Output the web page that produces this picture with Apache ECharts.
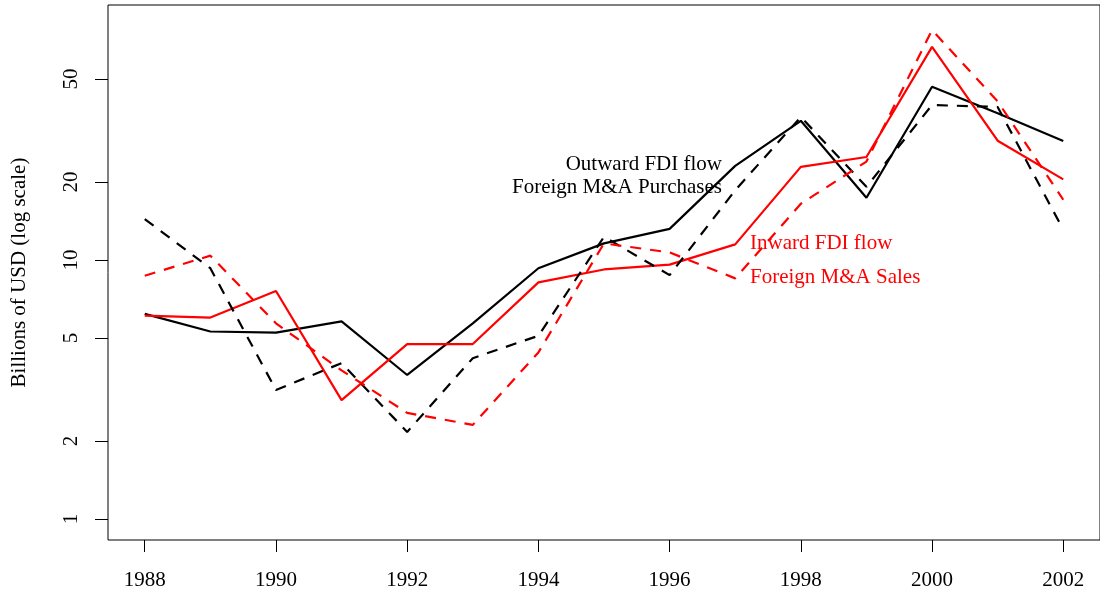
<!DOCTYPE html>
<html>
<head>
<meta charset="utf-8">
<script src="https://cdn.jsdelivr.net/npm/echarts@6/dist/echarts.min.js"></script>
<style>
  html, body { margin: 0; padding: 0; background: #fff; }
  #chart { width: 1100px; height: 595px; }
</style>
</head>
<body>
<div id="chart"></div>
<script>
// years on the x axis
const years = [1988, 1989, 1990, 1991, 1992, 1993, 1994, 1995, 1996, 1997, 1998, 1999, 2000, 2001, 2002]
const xTicks = [1988, 1990, 1992, 1994, 1996, 1998, 2000, 2002]
const yTicks = [1, 2, 5, 10, 20, 50]

// billions of USD
const outwardFdi = [6.2, 5.3, 5.25, 5.8, 3.6, 5.7, 9.3, 11.6, 13.2, 23.1, 34.5, 17.4, 46.7, 36.9, 28.8]
const inwardFdi = [6.1, 6.0, 7.6, 2.88, 4.74, 4.74, 8.2, 9.2, 9.6, 11.5, 22.9, 25.0, 66.6, 28.9, 20.5]
const maPurchases = [14.4, 9.3, 3.15, 4.0, 2.17, 4.18, 5.1, 12.3, 8.75, 18.6, 35.7, 19.2, 39.7, 39.0, 13.1]
const maSales = [8.7, 10.4, 5.7, 3.75, 2.57, 2.31, 4.4, 11.6, 10.7, 8.5, 16.5, 24.0, 77.3, 41.0, 17.1]

const font = 'Liberation Serif'

const pairs = (vals) => years.map((y, i) => [y, vals[i]])

const mkLine = (name, vals, color, dashed) => ({
  name: name,
  type: 'line',
  data: pairs(vals),
  symbol: 'none',
  silent: true,
  animation: false,
  lineStyle: {
    color: color,
    width: 2.2,
    type: dashed ? [11, 9] : 'solid'
  }
})

const chart = echarts.init(document.getElementById('chart'))

const option = {
  backgroundColor: '#fff',
  animation: false,
  grid: {
    show: true,
    left: 108,
    top: 5,
    width: 994,
    bottom: 55,
    borderColor: '#000',
    borderWidth: 1
  },
  xAxis: {
    type: 'value',
    min: 1987.44,
    max: 2002.56,
    axisLine: { show: false },
    splitLine: { show: false },
    axisTick: {
      customValues: xTicks,
      length: 12,
      lineStyle: { color: '#000', width: 1 }
    },
    axisLabel: {
      customValues: xTicks,
      margin: 30,
      color: '#000',
      fontFamily: font,
      fontSize: 21,
      formatter: (v) => String(v)
    }
  },
  yAxis: {
    type: 'log',
    logBase: 10,
    min: 0.83,
    max: 96.6,
    name: 'Billions of USD (log scale)',
    nameLocation: 'middle',
    nameGap: 78,
    nameTextStyle: { color: '#000', fontFamily: font, fontSize: 21 },
    axisLine: { show: false },
    splitLine: { show: false },
    minorTick: { show: false },
    axisTick: {
      customValues: yTicks,
      length: 13,
      lineStyle: { color: '#000', width: 1 }
    },
    axisLabel: {
      customValues: yTicks,
      rotate: 90,
      margin: 26,
      color: '#000',
      fontFamily: font,
      fontSize: 21,
      formatter: (v) => String(v)
    }
  },
  series: [
    mkLine('Outward FDI flow', outwardFdi, '#000', false),
    mkLine('Inward FDI flow', inwardFdi, '#ff0000', false),
    mkLine('Foreign M&A Purchases', maPurchases, '#000', true),
    mkLine('Foreign M&A Sales', maSales, '#ff0000', true)
  ],
  graphic: [
    { type: 'text', x: 722, y: 164, style: { text: 'Outward FDI flow', align: 'right', verticalAlign: 'middle', fill: '#000', font: '21px "Liberation Serif"' } },
    { type: 'text', x: 722, y: 187, style: { text: 'Foreign M&A Purchases', align: 'right', verticalAlign: 'middle', fill: '#000', font: '21px "Liberation Serif"' } },
    { type: 'text', x: 750, y: 243, style: { text: 'Inward FDI flow', align: 'left', verticalAlign: 'middle', fill: '#ff0000', font: '21px "Liberation Serif"' } },
    { type: 'text', x: 750, y: 277, style: { text: 'Foreign M&A Sales', align: 'left', verticalAlign: 'middle', fill: '#ff0000', font: '21px "Liberation Serif"' } }
  ]
}

chart.setOption(option)
</script>
</body>
</html>
